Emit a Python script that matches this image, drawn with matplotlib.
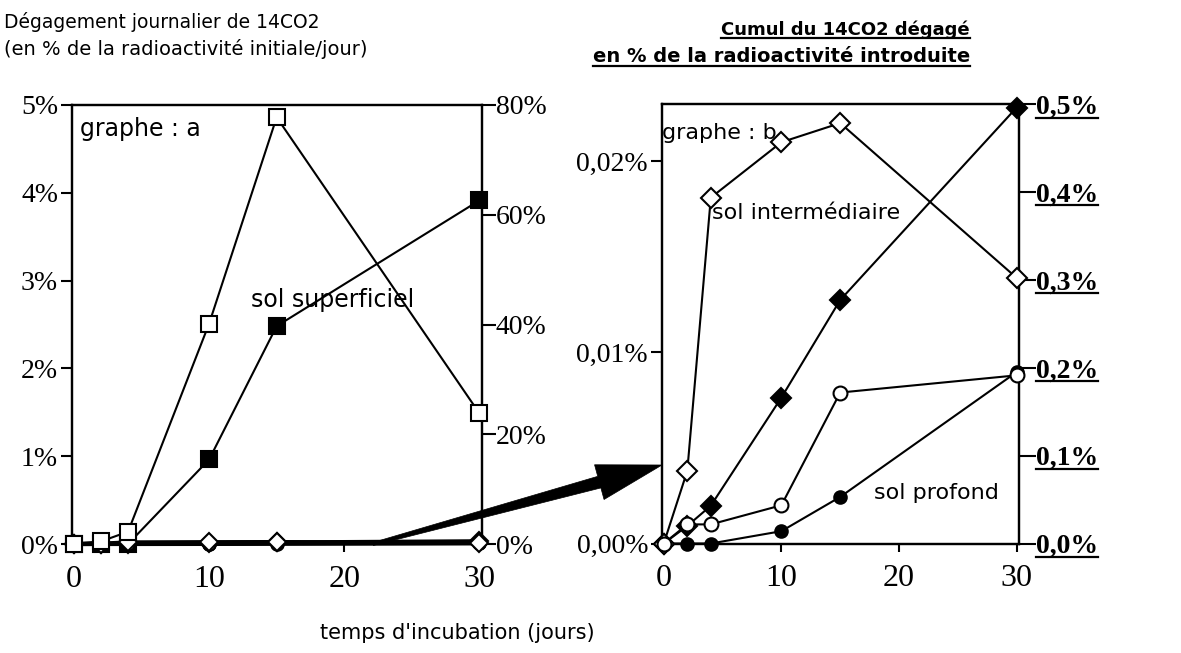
"""Daily and cumulative 14CO2 release, two-panel figure (graphe a / graphe b)."""

import matplotlib

matplotlib.use("Agg")
import matplotlib.pyplot as plt
import numpy as np
from matplotlib.lines import Line2D
from matplotlib.patches import Polygon
from matplotlib.ticker import FuncFormatter

DAYS = [0, 2, 4, 10, 15, 30]

# daily release, % of initial radioactivity / day (left axes)
DAILY_SUPERFICIEL = [0.0, 0.03, 0.14, 2.51, 4.86, 1.49]
DAILY_INTERMEDIAIRE = [0.0, 0.0038, 0.0181, 0.0210, 0.0220, 0.0139]
DAILY_PROFOND = [0.0, 0.0010, 0.0010, 0.0020, 0.0079, 0.0088]

# cumulative release, % of introduced radioactivity (right axes)
CUMUL_SUPERFICIEL = [0.0, 0.0, 0.0, 15.4, 39.7, 62.6]
CUMUL_INTERMEDIAIRE = [0.0, 0.02, 0.043, 0.166, 0.277, 0.496]
CUMUL_PROFOND = [0.0, 0.0, 0.0, 0.014, 0.053, 0.195]

A_LEFT_TICKS = [0, 1, 2, 3, 4, 5]
A_RIGHT_TICKS = [0, 20, 40, 60, 80]
B_LEFT_TICKS = [0.0, 0.01, 0.02]
B_RIGHT_TICKS = [0.0, 0.1, 0.2, 0.3, 0.4, 0.5]
X_TICKS = [0, 10, 20, 30]

SERIF = "Liberation Serif"
SANS = "DejaVu Sans"
W, H = 1181, 653


def pct(decimals):
    return FuncFormatter(lambda v, _: f"{v:.{decimals}f}%".replace(".", ","))


def style_axes(ax, twin, right_len):
    for sp in ax.spines.values():
        sp.set_linewidth(1.6)
    for sp in twin.spines.values():
        sp.set_linewidth(1.6)
    ax.set_xlim(-0.15, 30.2)
    ax.set_xticks(X_TICKS)
    ax.tick_params(axis="x", direction="out", length=6, width=1.5, pad=9,
                   labelsize=23, top=False)
    ax.tick_params(axis="y", direction="out", length=8, width=1.5, pad=2, labelsize=20)
    twin.tick_params(axis="y", direction="out", length=right_len, width=1.5, pad=0,
                     labelsize=20)
    for lab in ax.get_xticklabels() + ax.get_yticklabels() + twin.get_yticklabels():
        lab.set_fontfamily(SERIF)


def draw_series(ax, y, marker, face, size, lw=1.5, z=3):
    ax.plot(DAYS, y, color="black", lw=lw, marker=marker, markersize=size,
            markerfacecolor=face, markeredgecolor="black", markeredgewidth=1.5,
            clip_on=False, zorder=z)


def tapered_arrow(start, tip, head_len=65, head_half=18, tail_start=1.5, tail_end=6):
    """Arrow polygon in figure fraction, from pixel points (origin top-left)."""
    s = np.array(start, float)
    t = np.array(tip, float)
    d = (t - s) / np.hypot(*(t - s))
    n = np.array([-d[1], d[0]])
    b = t - d * head_len
    pts = [s + n * tail_start, b + n * tail_end, b + n * head_half, t,
           b - n * head_half, b - n * tail_end, s - n * tail_start]
    return [(p[0] / W, 1 - p[1] / H) for p in pts]


fig = plt.figure(figsize=(W / 100, H / 100), dpi=100)

# ---- graphe a ----
ax_a = fig.add_axes([72 / W, 1 - 544 / H, 410 / W, 439 / H])
ax_a2 = ax_a.twinx()
ax_a.set_zorder(ax_a2.get_zorder() + 1)
ax_a.patch.set_visible(False)

draw_series(ax_a2, CUMUL_PROFOND, "o", "black", 9, lw=3)
draw_series(ax_a2, CUMUL_INTERMEDIAIRE, "D", "black", 9, lw=3)
draw_series(ax_a2, CUMUL_SUPERFICIEL, "s", "black", 11)
draw_series(ax_a, DAILY_PROFOND, "o", "white", 9, lw=3)
draw_series(ax_a, DAILY_INTERMEDIAIRE, "D", "white", 9, lw=3)
draw_series(ax_a, DAILY_SUPERFICIEL, "s", "white", 11, z=4)

ax_a.set_ylim(0, 5)
ax_a2.set_ylim(0, 80)
ax_a.set_yticks(A_LEFT_TICKS)
ax_a2.set_yticks(A_RIGHT_TICKS)
ax_a.yaxis.set_major_formatter(pct(0))
ax_a2.yaxis.set_major_formatter(pct(0))
style_axes(ax_a, ax_a2, 10)

ax_a.text(0.02, 0.945, "graphe : a", transform=ax_a.transAxes, fontsize=17,
          family=SANS, va="center", ha="left")
ax_a.text(13.1, 2.78, "sol superficiel", fontsize=17, family=SANS, va="center")

# ---- graphe b ----
ax_b = fig.add_axes([662 / W, 1 - 543.5 / H, 357 / W, 439.5 / H])
ax_b2 = ax_b.twinx()
ax_b.set_zorder(ax_b2.get_zorder() + 1)
ax_b.patch.set_visible(False)

draw_series(ax_b2, CUMUL_INTERMEDIAIRE, "D", "black", 10)
draw_series(ax_b2, CUMUL_PROFOND, "o", "black", 9)
draw_series(ax_b, DAILY_INTERMEDIAIRE, "D", "white", 10)
draw_series(ax_b, DAILY_PROFOND, "o", "white", 10)

ax_b.set_ylim(0, 0.023)
ax_b2.set_ylim(0, 0.5)
ax_b.set_yticks(B_LEFT_TICKS)
ax_b2.set_yticks(B_RIGHT_TICKS)
ax_b.yaxis.set_major_formatter(pct(2))
ax_b2.yaxis.set_major_formatter(pct(1))
style_axes(ax_b, ax_b2, 12)
for lab in ax_b2.get_yticklabels():
    lab.set_fontweight("bold")

ax_b.text(0.0, 0.935, "graphe : b", transform=ax_b.transAxes, fontsize=16,
          family=SANS, va="center", ha="left")
ax_b.text(4.1, 0.01727, "sol intermédiaire", fontsize=16, family=SANS, va="center")
ax_b.text(17.9, 0.00264, "sol profond", fontsize=16, family=SANS, va="center")

# ---- titles and common label ----
fig.text(4 / W, 1 - 22 / H, "Dégagement journalier de 14CO2", fontsize=13.5,
         family=SANS, va="center", ha="left")
fig.text(4 / W, 1 - 49 / H, "(en % de la radioactivité initiale/jour)", fontsize=14,
         family=SANS, va="center", ha="left")
t1 = fig.text(970 / W, 1 - 30 / H, "Cumul du 14CO2 dégagé", fontsize=13,
              family=SANS, weight="bold", va="center", ha="right")
t2 = fig.text(970 / W, 1 - 57 / H, "en % de la radioactivité introduite", fontsize=14,
              family=SANS, weight="bold", va="center", ha="right")
fig.text(457 / W, 1 - 633 / H, "temps d'incubation (jours)", fontsize=15,
         family=SANS, va="center", ha="center")

# arrow from graphe a baseline to graphe b
fig.add_artist(Polygon(tapered_arrow((373, 544), (662, 465)), closed=True,
                       facecolor="black", edgecolor="black", lw=0.5,
                       transform=fig.transFigure))

# underlines (titles and bold tick labels of graphe b)
fig.canvas.draw()
renderer = fig.canvas.get_renderer()
inv = fig.transFigure.inverted()


def underline(x0, x1, y, lw=1.6):
    (fx0, fy), (fx1, _) = inv.transform([(x0, y), (x1, y)])
    fig.add_artist(Line2D([fx0, fx1], [fy, fy], color="black", lw=lw))


for t in (t1, t2):
    bb = t.get_window_extent(renderer)
    underline(bb.x0, bb.x1, bb.y0 + 1)

for lab in ax_b2.get_yticklabels():
    bb = lab.get_window_extent(renderer)
    if bb.width > 0:
        underline(bb.x0, bb.x1, bb.y0 + 2)

fig.savefig("out.png", dpi=100)
